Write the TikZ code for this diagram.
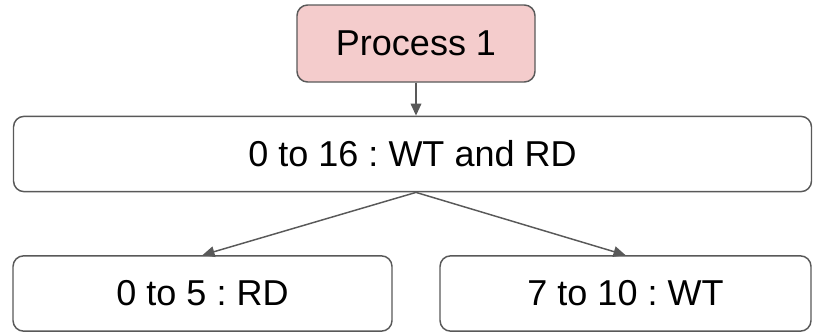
\documentclass[tikz,border=0pt]{standalone}
\usepackage{fontspec}
\setmainfont{Liberation Sans}
\usepackage{xcolor}
\usetikzlibrary{arrows.meta,positioning}

\definecolor{procpink}{HTML}{F4CCCC}
\definecolor{edgegray}{HTML}{595959}
\frenchspacing

\begin{document}
\begin{tikzpicture}[
  x=0.75pt,y=-0.75pt,
  font=\fontsize{27}{32}\selectfont,
  proc/.style={draw=edgegray,line width=1.1pt,rounded corners=8pt,fill=procpink,align=center,inner sep=0pt,minimum width=178.5pt,minimum height=57.75pt},
  rangebox/.style={draw=edgegray,line width=1.1pt,rounded corners=8pt,fill=white,align=center,inner sep=0pt,minimum height=56.5pt},
  arrow/.style={-{Triangle[length=9pt,width=8pt]},draw=edgegray,fill=edgegray,line width=1.1pt}
]
\useasboundingbox (0,0) rectangle (813,332);

\node[proc] (p1) at (416,43.5) {Process 1};
\node[rangebox,minimum width=598.5pt] (all) at (412.5,154) {0 to 16 : WT and RD};
\node[rangebox,minimum width=284.25pt] (rd) at (202.5,293.5) {0 to 5 : RD};
\node[rangebox,minimum width=278.25pt] (wt) at (625.5,293.5) {7 to 10 : WT};

\coordinate (split) at (p1.south |- all.south);

\draw[arrow] (p1) -- (p1.south |- all.north);
\draw[arrow] (split) -- (rd.north);
\draw[arrow] (split) -- (wt.north);
\end{tikzpicture}
\end{document}
